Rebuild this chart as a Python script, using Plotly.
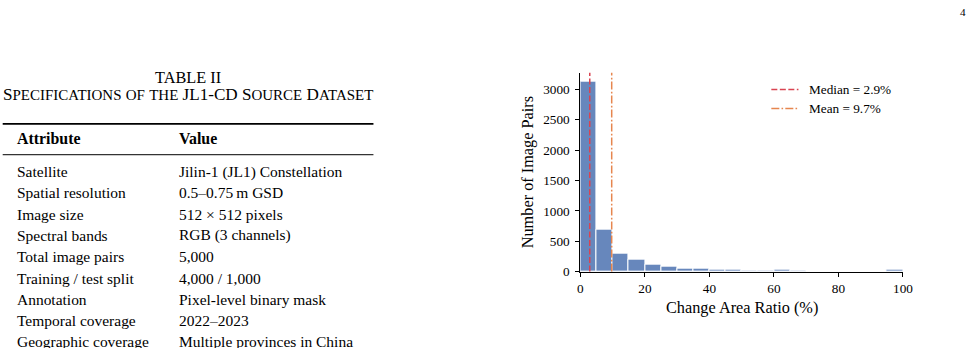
import plotly.graph_objects as go

# ---------------- data ----------------
bin_starts = [0, 5, 10, 15, 20, 25, 30, 35, 40, 45, 50, 55, 60, 65, 70, 75, 80, 85, 90, 95]
bin_counts = [3120, 693, 300, 202, 112, 82, 55, 50, 30, 37, 22, 22, 28, 20, 8, 5, 3, 3, 8, 28]
bin_width = 5
median_value = 2.9
mean_value = 9.7
x_ticks = [0, 20, 40, 60, 80, 100]
y_ticks = [0, 500, 1000, 1500, 2000, 2500, 3000]

table_title = "TABLE II"
table_subtitle = "Specifications of the JL1-CD Source Dataset"
table_headers = ["Attribute", "Value"]
table_attributes = ["Satellite", "Spatial resolution", "Image size", "Spectral bands",
                    "Total image pairs", "Training / test split", "Annotation",
                    "Temporal coverage", "Geographic coverage"]
table_values = ["Jilin-1 (JL1) Constellation", "0.5\u20130.75\u2009m GSD", "512 \u00d7 512 pixels",
                "RGB (3 channels)", "5,000", "4,000 / 1,000", "Pixel-level binary mask",
                "2022\u20132023", "Multiple provinces in China"]
page_number = "4"

# ---------------- layout helpers ----------------
W, H = 974, 348
FONT = "Liberation Serif"
BAR_COLOR = "rgb(103,135,188)"
MEDIAN_COLOR = "#d94452"
MEAN_COLOR = "#e6864f"
MEDIAN_DASH = "6px,2.5px"
MEAN_DASH = "8px,2.2px,1.6px,2.2px"

# the photographed page comes out slightly scaled; compensate
SCALE = 0.982
OFF_X = 6.3
OFF_Y = -1.0


def fs(size):
    return round(size / SCALE, 2)


def px(x):
    return ((x - OFF_X) / SCALE) / W


def py(y):
    return 1 - ((y - OFF_Y) / SCALE) / H


BODY_SIZE = fs(15.2)
CAP_SIZE = fs(16.8)
SC_SIZE = fs(14.7)


def small_caps(text):
    """LaTeX-like small caps: capitals stay full size, lowercase become smaller capitals."""
    out = []
    buf = ""
    for ch in text:
        if ch.islower():
            buf += ch.upper()
        else:
            if buf:
                out.append('<span style="font-size:%gpx">%s</span>' % (SC_SIZE, buf))
                buf = ""
            out.append(ch)
    if buf:
        out.append('<span style="font-size:%gpx">%s</span>' % (SC_SIZE, buf))
    return "".join(out)


fig = go.Figure()

centers = [s + bin_width / 2 for s in bin_starts]
fig.add_trace(go.Bar(
    x=centers, y=bin_counts, width=[bin_width] * len(bin_starts),
    marker=dict(color=BAR_COLOR, line=dict(color="white", width=1)),
    showlegend=False, hoverinfo="skip",
))

y_top = max(bin_counts) * 1.05

ann = []
shapes = []

# vertical median / mean lines
shapes.append(dict(type="line", xref="x", yref="y domain", x0=median_value, x1=median_value,
                   y0=0, y1=1, line=dict(color=MEDIAN_COLOR, width=1.5, dash=MEDIAN_DASH)))
shapes.append(dict(type="line", xref="x", yref="y domain", x0=mean_value, x1=mean_value,
                   y0=0, y1=1, line=dict(color=MEAN_COLOR, width=1.5, dash=MEAN_DASH)))

# manual legend
legend_items = [("Median = %.1f%%" % median_value, MEDIAN_COLOR, MEDIAN_DASH, 89),
                ("Mean = %.1f%%" % mean_value, MEAN_COLOR, MEAN_DASH, 108)]
for label, col, dash, yy in legend_items:
    shapes.append(dict(type="line", xref="paper", yref="paper", x0=px(771), x1=px(798),
                       y0=py(yy), y1=py(yy), line=dict(color=col, width=1.5, dash=dash)))
    ann.append(dict(text=label, x=px(807), y=py(yy), xref="paper", yref="paper",
                    xanchor="left", yanchor="middle", showarrow=False,
                    font=dict(family=FONT, size=fs(13), color="black")))

# axis titles
ann.append(dict(text="Change Area Ratio (%)", x=px(741.5), y=py(308), xref="paper", yref="paper",
                xanchor="center", yanchor="middle", showarrow=False,
                font=dict(family=FONT, size=fs(16), color="black")))
ann.append(dict(text="Number of Image Pairs", x=px(528), y=py(172), xref="paper", yref="paper",
                xanchor="center", yanchor="middle", showarrow=False, textangle=-90,
                font=dict(family=FONT, size=fs(16), color="black")))

# ---------------- table ----------------
ann.append(dict(text=table_title, x=px(190.5), y=py(77), xref="paper", yref="paper",
                xanchor="center", yanchor="middle", showarrow=False,
                font=dict(family=FONT, size=fs(16), color="black")))
ann.append(dict(text=small_caps(table_subtitle), x=px(190), y=py(94), xref="paper", yref="paper",
                xanchor="center", yanchor="middle", showarrow=False,
                font=dict(family=FONT, size=CAP_SIZE, color="black")))

shapes.append(dict(type="line", xref="paper", yref="paper", x0=px(6), x1=px(375),
                   y0=py(123.5), y1=py(123.5), line=dict(color="black", width=1.6)))
shapes.append(dict(type="line", xref="paper", yref="paper", x0=px(6), x1=px(375),
                   y0=py(154.5), y1=py(154.5), line=dict(color="black", width=1)))

col_x = [18, 179]
for cx, h in zip(col_x, table_headers):
    ann.append(dict(text="<b>%s</b>" % h, x=px(cx), y=py(138.5), xref="paper", yref="paper",
                    xanchor="left", yanchor="middle", showarrow=False,
                    font=dict(family=FONT, size=fs(15.6), color="black")))

row_y0 = 171.5
row_dy = 21.4
for i, (a, v) in enumerate(zip(table_attributes, table_values)):
    yy = row_y0 + i * row_dy
    for cx, t in zip(col_x, (a, v)):
        ann.append(dict(text=t, x=px(cx), y=py(yy), xref="paper", yref="paper",
                        xanchor="left", yanchor="middle", showarrow=False,
                        font=dict(family=FONT, size=BODY_SIZE, color="black")))

ann.append(dict(text=page_number, x=px(962), y=py(11), xref="paper", yref="paper",
                xanchor="center", yanchor="middle", showarrow=False,
                font=dict(family=FONT, size=fs(11), color="black")))

fig.update_layout(
    width=W, height=H, margin=dict(l=0, r=0, t=0, b=0),
    paper_bgcolor="white", plot_bgcolor="white",
    bargap=0, showlegend=False,
    font=dict(family=FONT, size=fs(13), color="black"),
    xaxis=dict(domain=[px(581), px(902)], range=[0, 100], tickvals=x_ticks,
               showline=True, linecolor="black", linewidth=1.2, ticks="outside",
               ticklen=4, tickwidth=1, tickcolor="black", showgrid=False, zeroline=False,
               tickfont=dict(family=FONT, size=fs(13), color="black"), fixedrange=True),
    yaxis=dict(domain=[py(272), py(72)], range=[0, y_top], tickvals=y_ticks,
               showline=True, linecolor="black", linewidth=1.2, ticks="outside",
               ticklen=4, tickwidth=1, tickcolor="black", showgrid=False, zeroline=False,
               ticklabelstandoff=3,
               tickfont=dict(family=FONT, size=fs(13), color="black"), fixedrange=True),
    annotations=ann, shapes=shapes,
)

fig.write_html("out.html")
